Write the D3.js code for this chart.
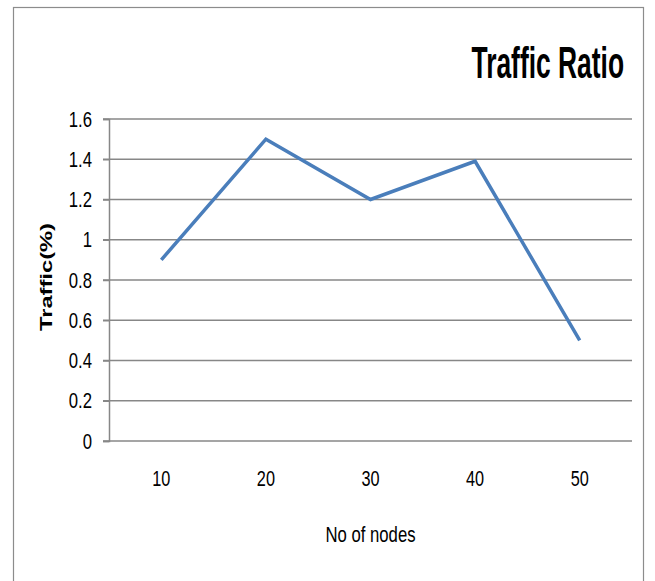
<!DOCTYPE html>
<html>
<head>
<meta charset="utf-8">
<script src="https://cdn.jsdelivr.net/npm/d3@7"></script>
<style>
  body { margin: 0; background: #fff; }
  text { font-family: "Liberation Sans", Arial, sans-serif; fill: #000; }
</style>
</head>
<body>
<svg id="mainsvg" width="655" height="581"></svg>
<script>
const nodes = ['10', '20', '30', '40', '50'];
const traffic = [0.9, 1.5, 1.2, 1.39, 0.5];
const yTicks = [0, 0.2, 0.4, 0.6, 0.8, 1, 1.2, 1.4, 1.6];

const svg = d3.select('#mainsvg');
const margin = { left: 109, right: 23, top: 119, bottom: 140 };
const width = +svg.attr('width');
const height = +svg.attr('height');

// squeeze text horizontally (the original font is a tall narrow one)
const squeeze = (sel, sx) => sel.each(function () {
  const t = d3.select(this);
  const x0 = +t.attr('x') || 0;
  t.attr('x', x0 / sx).attr('transform', `scale(${sx},1)`);
});

// outer frame (bottom edge falls outside the picture)
svg.append('rect')
  .attr('x', 13.5).attr('y', 7.5)
  .attr('width', 630).attr('height', 600)
  .attr('fill', 'none').attr('stroke', '#8c8c8c').attr('stroke-width', 1.2);

const x = d3.scaleBand().domain(nodes).range([margin.left, width - margin.right]);
const y = d3.scaleLinear().domain([0, 1.6]).range([height - margin.bottom, margin.top]);

// gridlines
svg.append('g')
  .selectAll('line')
  .data(yTicks)
  .join('line')
  .attr('x1', margin.left - 6)
  .attr('x2', width - margin.right)
  .attr('y1', d => y(d))
  .attr('y2', d => y(d))
  .attr('stroke', '#878787')
  .attr('stroke-width', 1.5);

// y axis
const yAxis = svg.append('g')
  .attr('transform', `translate(${margin.left},0)`)
  .call(d3.axisLeft(y).tickValues(yTicks).tickSize(6).tickPadding(11).tickFormat(d3.format('~g')));
yAxis.select('.domain').attr('stroke', '#878787').attr('stroke-width', 1.5);
yAxis.selectAll('.tick line').attr('stroke', '#878787').attr('stroke-width', 1.5);
yAxis.selectAll('text').attr('font-size', 22).attr('font-family', null).call(squeeze, 0.76);

// x axis labels
const xAxis = svg.append('g')
  .attr('transform', `translate(0,${y(0)})`)
  .call(d3.axisBottom(x).tickSize(0).tickPadding(29));
xAxis.select('.domain').remove();
xAxis.selectAll('text').attr('font-size', 22).attr('font-family', null).call(squeeze, 0.74);

// line
const line = d3.line()
  .x((d, i) => x(nodes[i]) + x.bandwidth() / 2)
  .y(d => y(d));

svg.append('path')
  .datum(traffic)
  .attr('d', line)
  .attr('fill', 'none')
  .attr('stroke', '#4a7ebb')
  .attr('stroke-width', 3.5)
  .attr('stroke-linejoin', 'miter');

// title
svg.append('text')
  .attr('transform', 'translate(624,78) scale(0.6,1)')
  .attr('text-anchor', 'end')
  .attr('font-size', 44)
  .attr('font-weight', 'bold')
  .text('Traffic Ratio');

// axis titles
svg.append('text')
  .attr('transform', `translate(${(margin.left + width - margin.right) / 2},542) scale(0.76,1)`)
  .attr('text-anchor', 'middle')
  .attr('font-size', 22)
  .text('No of nodes');

svg.append('text')
  .attr('transform', 'translate(52,277) rotate(-90)')
  .attr('text-anchor', 'middle')
  .attr('font-size', 16)
  .attr('font-weight', 'bold')
  .attr('textLength', 108)
  .attr('lengthAdjust', 'spacingAndGlyphs')
  .text('Traffic(%)');
</script>
</body>
</html>
